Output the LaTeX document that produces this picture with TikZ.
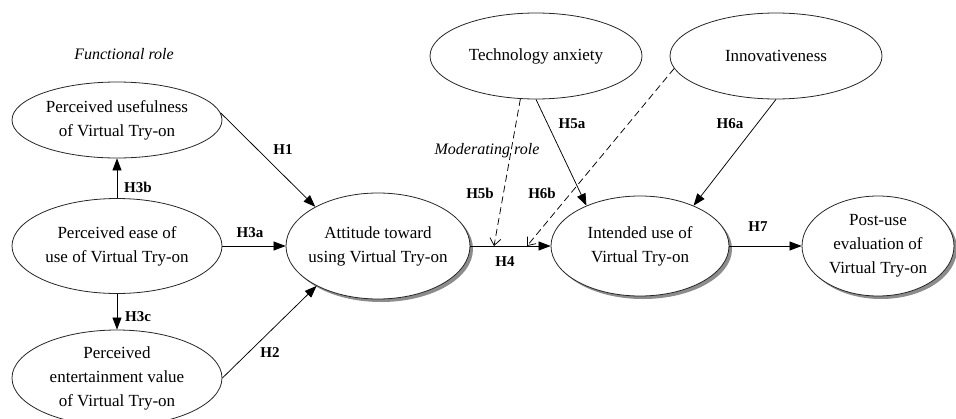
\documentclass[tikz,border=0pt]{standalone}
\usepackage{fontspec}
\setmainfont{Liberation Serif}
\usetikzlibrary{arrows.meta,shapes.geometric,shadows}
\begin{document}
\begin{tikzpicture}[x=1pt,y=-1pt,
  construct/.style={ellipse, draw=black!85, line width=0.8pt, fill=white,
    inner sep=-20pt, align=center, font=\fontsize{17}{24}\selectfont},
  shadowed/.style={drop shadow={shadow xshift=3pt, shadow yshift=-3pt,
    opacity=1, fill=black!45}},
  link/.style={line width=0.75pt, -{Triangle[length=12pt,width=9pt]}},
  modlink/.style={line width=0.75pt, dash pattern=on 7pt off 4pt,
    -{Straight Barb[length=7pt,width=11pt]}},
  hyp/.style={font=\fontsize{15}{15}\selectfont\bfseries},
  role/.style={font=\fontsize{16}{16}\selectfont\itshape}]

\useasboundingbox (0,0) rectangle (956,418);

% functional antecedents
\node[construct, minimum width=210pt, minimum height=76pt] (pu) at (117,120)
  {Perceived usefulness\\of Virtual Try-on};
\node[construct, minimum width=210pt, minimum height=95pt] (pe) at (117,246)
  {Perceived ease of\\use of Virtual Try-on};
\node[construct, minimum width=210pt, minimum height=96pt] (pev) at (117,378)
  {Perceived\\entertainment value\\of Virtual Try-on};

% main chain
\node[construct, shadowed, minimum width=184pt, minimum height=106pt] (att) at (378,246)
  {Attitude toward\\using Virtual Try-on};
\node[construct, shadowed, minimum width=178pt, minimum height=100pt] (int) at (640,246)
  {Intended use of\\Virtual Try-on};
\node[construct, shadowed, minimum width=152pt, minimum height=100pt] (post) at (878,246)
  {Post-use\\evaluation of\\Virtual Try-on};

% moderators
\node[construct, minimum width=212pt, minimum height=86pt] (ta) at (536,56)
  {Technology anxiety};
\node[construct, minimum width=212pt, minimum height=86pt] (inn) at (776,56)
  {Innovativeness};

% role captions
\node[role] (funcrole) at (124,54) {Functional role};
\node[role] (modrole) at (487,151) {Moderating role};

% hypothesised paths
\draw[link] (pu.4) -- (att.148);
\draw[link] (pe.east) -- (att.west);
\draw[link] (pev.east) -- (att.213);
\draw[link] (pe.north) -- (pu.south);
\draw[link] (pe.south) -- (pev.north);
\draw[link] (att.east) -- (int.west);
\draw[link] (int.east) -- (post.west);
\draw[link] (ta.south) -- (int.143);
\draw[link] (inn.south) -- (int.37);

% moderating effects on the attitude-intention path
\coordinate (m5) at (494,246);
\coordinate (m6) at (527,246);
\draw[modlink] (ta.250) -- (m5);
\draw[modlink] (inn.187) -- (m6);

% path labels
\node[hyp] (h1) at (283,150) {H1};
\node[hyp] (h3a) at (250,233) {H3a};
\node[hyp] (h2) at (270,353) {H2};
\node[hyp] (h3b) at (138,187) {H3b};
\node[hyp] (h3c) at (138,317) {H3c};
\node[hyp] (h4) at (505,262) {H4};
\node[hyp] (h5a) at (572,124) {H5a};
\node[hyp] (h5b) at (480,193) {H5b};
\node[hyp] (h6b) at (542,193) {H6b};
\node[hyp] (h6a) at (730,124) {H6a};
\node[hyp] (h7) at (758,227) {H7};
\end{tikzpicture}
\end{document}
